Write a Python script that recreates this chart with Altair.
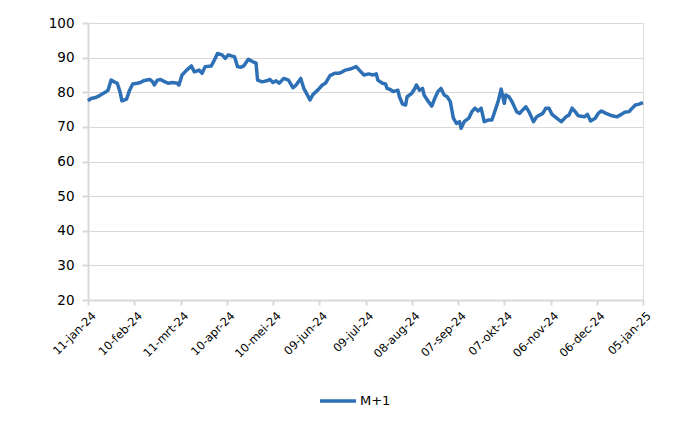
import altair as alt
import pandas as pd

# ---- data ----
dates = [
    "2024-01-11", "2024-01-13", "2024-01-16", "2024-01-18", "2024-01-21", "2024-01-23", "2024-01-24",
    "2024-01-26", "2024-01-28", "2024-01-30", "2024-02-01", "2024-02-02", "2024-02-05", "2024-02-07",
    "2024-02-09", "2024-02-12", "2024-02-14", "2024-02-16", "2024-02-20", "2024-02-22", "2024-02-23",
    "2024-02-25", "2024-02-27", "2024-03-01", "2024-03-03", "2024-03-06", "2024-03-09", "2024-03-10",
    "2024-03-12", "2024-03-15", "2024-03-18", "2024-03-20", "2024-03-23", "2024-03-25", "2024-03-27",
    "2024-03-31", "2024-04-02", "2024-04-04", "2024-04-07", "2024-04-09", "2024-04-11", "2024-04-13",
    "2024-04-15", "2024-04-17", "2024-04-19", "2024-04-21", "2024-04-24", "2024-04-27", "2024-04-29",
    "2024-04-30", "2024-05-03", "2024-05-06", "2024-05-08", "2024-05-10", "2024-05-12", "2024-05-14",
    "2024-05-17", "2024-05-20", "2024-05-23", "2024-05-25", "2024-05-28", "2024-05-30", "2024-06-03",
    "2024-06-05", "2024-06-08", "2024-06-11", "2024-06-13", "2024-06-16", "2024-06-19", "2024-06-22",
    "2024-06-24", "2024-06-26", "2024-06-29", "2024-07-03", "2024-07-05", "2024-07-08", "2024-07-11",
    "2024-07-14", "2024-07-16", "2024-07-17", "2024-07-20", "2024-07-22", "2024-07-23", "2024-07-25",
    "2024-07-27", "2024-07-30", "2024-07-31", "2024-08-02", "2024-08-04", "2024-08-05", "2024-08-08",
    "2024-08-10", "2024-08-11", "2024-08-13", "2024-08-15", "2024-08-16", "2024-08-18", "2024-08-21",
    "2024-08-23", "2024-08-25", "2024-08-27", "2024-08-29", "2024-08-31", "2024-09-02", "2024-09-04",
    "2024-09-06", "2024-09-08", "2024-09-09", "2024-09-11", "2024-09-14", "2024-09-16", "2024-09-18",
    "2024-09-20", "2024-09-22", "2024-09-24", "2024-09-27", "2024-09-29", "2024-10-03", "2024-10-05",
    "2024-10-07", "2024-10-08", "2024-10-10", "2024-10-12", "2024-10-15", "2024-10-17", "2024-10-19",
    "2024-10-21", "2024-10-23", "2024-10-26", "2024-10-28", "2024-11-01", "2024-11-03", "2024-11-05",
    "2024-11-07", "2024-11-10", "2024-11-13", "2024-11-16", "2024-11-18", "2024-11-20", "2024-11-22",
    "2024-11-24", "2024-11-28", "2024-11-30", "2024-12-02", "2024-12-05", "2024-12-07", "2024-12-09",
    "2024-12-12", "2024-12-16", "2024-12-19", "2024-12-22", "2024-12-24", "2024-12-27", "2024-12-29",
    "2024-12-31", "2025-01-02", "2025-01-05",
]
values = [
    77.5, 78.2, 78.5, 78.9, 79.7, 80.2, 80.6,
    83.5, 83.0, 82.6, 79.7, 77.5, 78.0, 80.6,
    82.4, 82.6, 82.8, 83.3, 83.7, 83.0, 82.1,
    83.5, 83.7, 83.0, 82.6, 82.8, 82.6, 82.1,
    85.0, 86.4, 87.6, 85.9, 86.4, 85.5, 87.4,
    87.6, 89.3, 91.2, 90.8, 89.8, 90.8, 90.5,
    90.3, 87.4, 87.2, 87.6, 89.5, 88.8, 88.4,
    83.5, 83.0, 83.3, 83.7, 82.8, 83.3, 82.6,
    84.0, 83.5, 81.3, 82.1, 84.0, 81.1, 77.8,
    79.4, 80.6, 82.1, 82.6, 84.8, 85.5, 85.5,
    85.9, 86.4, 86.7, 87.4, 86.4, 85.0, 85.3,
    85.0, 85.3, 83.5, 82.6, 82.4, 81.1, 80.8,
    80.2, 80.6, 78.7, 76.6, 76.3, 78.7, 79.7,
    81.1, 82.1, 80.6, 81.1, 79.2, 77.8, 76.0,
    78.3, 80.2, 81.1, 79.2, 78.7, 77.3, 72.5,
    71.0, 71.5, 69.6, 71.5, 72.5, 74.4, 75.4,
    74.6, 75.4, 71.5, 72.0, 72.0, 77.3, 80.9,
    76.8, 79.2, 78.7, 77.3, 74.4, 73.9, 74.9,
    75.8, 74.4, 71.5, 72.9, 73.9, 75.4, 75.4,
    73.6, 72.5, 71.5, 72.9, 73.4, 75.4, 74.4,
    73.2, 72.9, 73.6, 71.7, 72.5, 73.9, 74.6,
    73.9, 73.2, 72.9, 73.6, 74.2, 74.4, 75.4,
    76.3, 76.5, 77.0,
]
series_name = "M+1"
tick_dates = [
    "2024-01-11", "2024-02-10", "2024-03-11", "2024-04-10", "2024-05-10", "2024-06-09", "2024-07-09",
    "2024-08-08", "2024-09-07", "2024-10-07", "2024-11-06", "2024-12-06", "2025-01-05",
]
month_names = ["jan", "feb", "mrt", "apr", "mei", "jun", "jul", "aug", "sep", "okt", "nov", "dec"]
y_ticks = [20, 30, 40, 50, 60, 70, 80, 90, 100]

df = pd.DataFrame({"date": dates, "value": values, "series": series_name})

def dt(s):
    y, m, d = (int(p) for p in s.split("-"))
    return alt.DateTime(year=y, month=m, date=d, utc=True)

FONT = "DejaVu Sans"
GREY = "#d9d9d9"
BLUE = "#2E70B5"

month_arr = "[" + ",".join("'" + m + "'" for m in month_names) + "]"
label_expr = ("utcFormat(datum.value, '%d') + '-' + " + month_arr +
              "[utcmonth(datum.value)] + '-' + utcFormat(datum.value, '%y')")

chart = alt.Chart(df).mark_line(strokeWidth=3.5, strokeJoin="round").encode(
    x=alt.X("date:T",
            scale=alt.Scale(type="utc", domain=[dt(tick_dates[0]), dt(tick_dates[-1])], nice=False),
            axis=alt.Axis(values=[dt(s) for s in tick_dates], labelExpr=label_expr,
                          labelAngle=-45, labelAlign="right", labelBaseline="middle",
                          labelPadding=9, labelOffset=6, tickSize=5, title=None, grid=False,
                          labelFontSize=11.5, labelFont=FONT, labelColor="#000000",
                          domainColor=GREY, domainWidth=2, tickColor=GREY, tickWidth=2,
                          labelOverlap=False, labelFlush=False)),
    y=alt.Y("value:Q",
            scale=alt.Scale(domain=[20, 100], nice=False, zero=False),
            axis=alt.Axis(values=y_ticks, title=None, tickSize=6, labelPadding=8,
                          labelFontSize=13.5, labelFont=FONT, labelColor="#000000",
                          domainColor=GREY, domainWidth=2, tickColor=GREY, tickWidth=2,
                          gridColor=GREY, gridWidth=1)),
    color=alt.Color("series:N", scale=alt.Scale(range=[BLUE]),
                    legend=alt.Legend(title=None, orient="none", legendX=230, legendY=358,
                                      symbolType="stroke", symbolSize=1300, symbolStrokeWidth=3.5,
                                      labelFontSize=13, labelFont=FONT, labelColor="#000000",
                                      labelOffset=2)),
).properties(
    width=555, height=277,
    autosize=alt.AutoSizeParams(type="none"),
    padding={"left": 88, "top": 23, "right": 57, "bottom": 130},
).configure_view(stroke=GREY, strokeWidth=1.5).configure(background="white")

chart.save("out.html", embed_options={"renderer": "svg", "actions": False})
